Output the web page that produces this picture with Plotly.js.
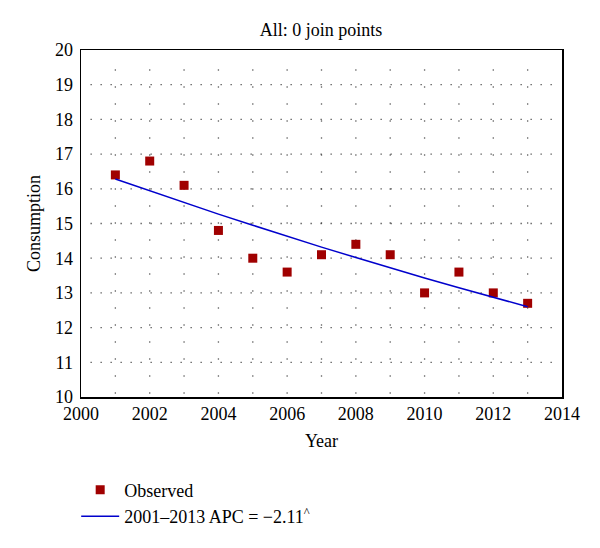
<!DOCTYPE html>
<html>
<head>
<meta charset="utf-8">
<script src="https://cdn.plot.ly/plotly-3.0.1.min.js"></script>
<style>html,body{margin:0;padding:0;background:#fff;}#chart{width:600px;height:548px;}</style>
</head>
<body>
<div id="chart"></div>
<script>
const years = [2001,2002,2003,2004,2005,2006,2007,2008,2009,2010,2011,2012,2013];
const observed = [16.4,16.8,16.1,14.8,14.0,13.6,14.1,14.4,14.1,13.0,13.6,13.0,12.7];
const fitted = [16.28,15.94,15.60,15.27,14.95,14.63,14.32,14.02,13.72,13.43,13.15,12.87,12.60];
const xTicks = [2000,2002,2004,2006,2008,2010,2012,2014];
const yTicks = [10,11,12,13,14,15,16,17,18,19,20];
const gridYears = [2001,2002,2003,2004,2005,2006,2007,2008,2009,2010,2011,2012,2013];
const gridVals = [11,12,13,14,15,16,17,18,19];
const titleText = 'All: 0 join points';
const obsName = 'Observed';
const fitName = '2001–2013 APC = −2.11<sup>^</sup>';

const FONT = '"Liberation Serif", "DejaVu Serif", serif';

const shapes = [];
gridYears.forEach(y => shapes.push({type:'line', xref:'x', yref:'paper', x0:y, x1:y, y0:0.01, y1:0.97,
  line:{color:'#222', width:1.3, dash:'1px,16px'}, layer:'below'}));
gridVals.forEach(v => shapes.push({type:'line', xref:'paper', yref:'y', x0:0.02, x1:0.99, y0:v, y1:v,
  line:{color:'#222', width:1.3, dash:'1px,9px'}, layer:'below'}));

const data = [
  {x: years, y: observed, type:'scatter', mode:'markers', name: obsName,
   marker:{symbol:'square', size:9, color:'#a00000'}},
  {x: years, y: fitted, type:'scatter', mode:'lines', name: fitName,
   line:{color:'#0000cc', width:1.5}}
];

const layout = {
  width:600, height:548,
  margin:{l:81, r:38, t:50, b:151},
  paper_bgcolor:'#fff', plot_bgcolor:'#fff',
  font:{family:FONT, size:18, color:'#000'},
  title:{text:titleText, x:0.535, xanchor:'center', y:0.945, yanchor:'middle', font:{family:FONT, size:18, color:'#000'}},
  xaxis:{range:[2000,2014], tickvals:xTicks, ticktext:xTicks.map(String), showgrid:false, zeroline:false,
    showline:true, mirror:true, linecolor:'#000', linewidth:1.5, ticks:'', ticklabelstandoff:0,
    title:{text:'Year', standoff:11, font:{family:FONT, size:18}}, tickfont:{family:FONT, size:18}},
  yaxis:{range:[10,20], tickvals:yTicks, ticktext:yTicks.map(String), showgrid:false, zeroline:false,
    showline:true, mirror:true, linecolor:'#000', linewidth:1.5, ticks:'', ticklabelstandoff:3,
    title:{text:'Consumption', standoff:9, font:{family:FONT, size:18}}, tickfont:{family:FONT, size:18}},
  shapes: shapes,
  showlegend:true,
  legend:{x:-0.01, xanchor:'left', y:-0.215, yanchor:'top', bgcolor:'rgba(0,0,0,0)', font:{family:FONT, size:18}, tracegroupgap:0, itemwidth:38}
};

Plotly.newPlot('chart', data, layout, {displayModeBar:false, staticPlot:true});
</script>
</body>
</html>
